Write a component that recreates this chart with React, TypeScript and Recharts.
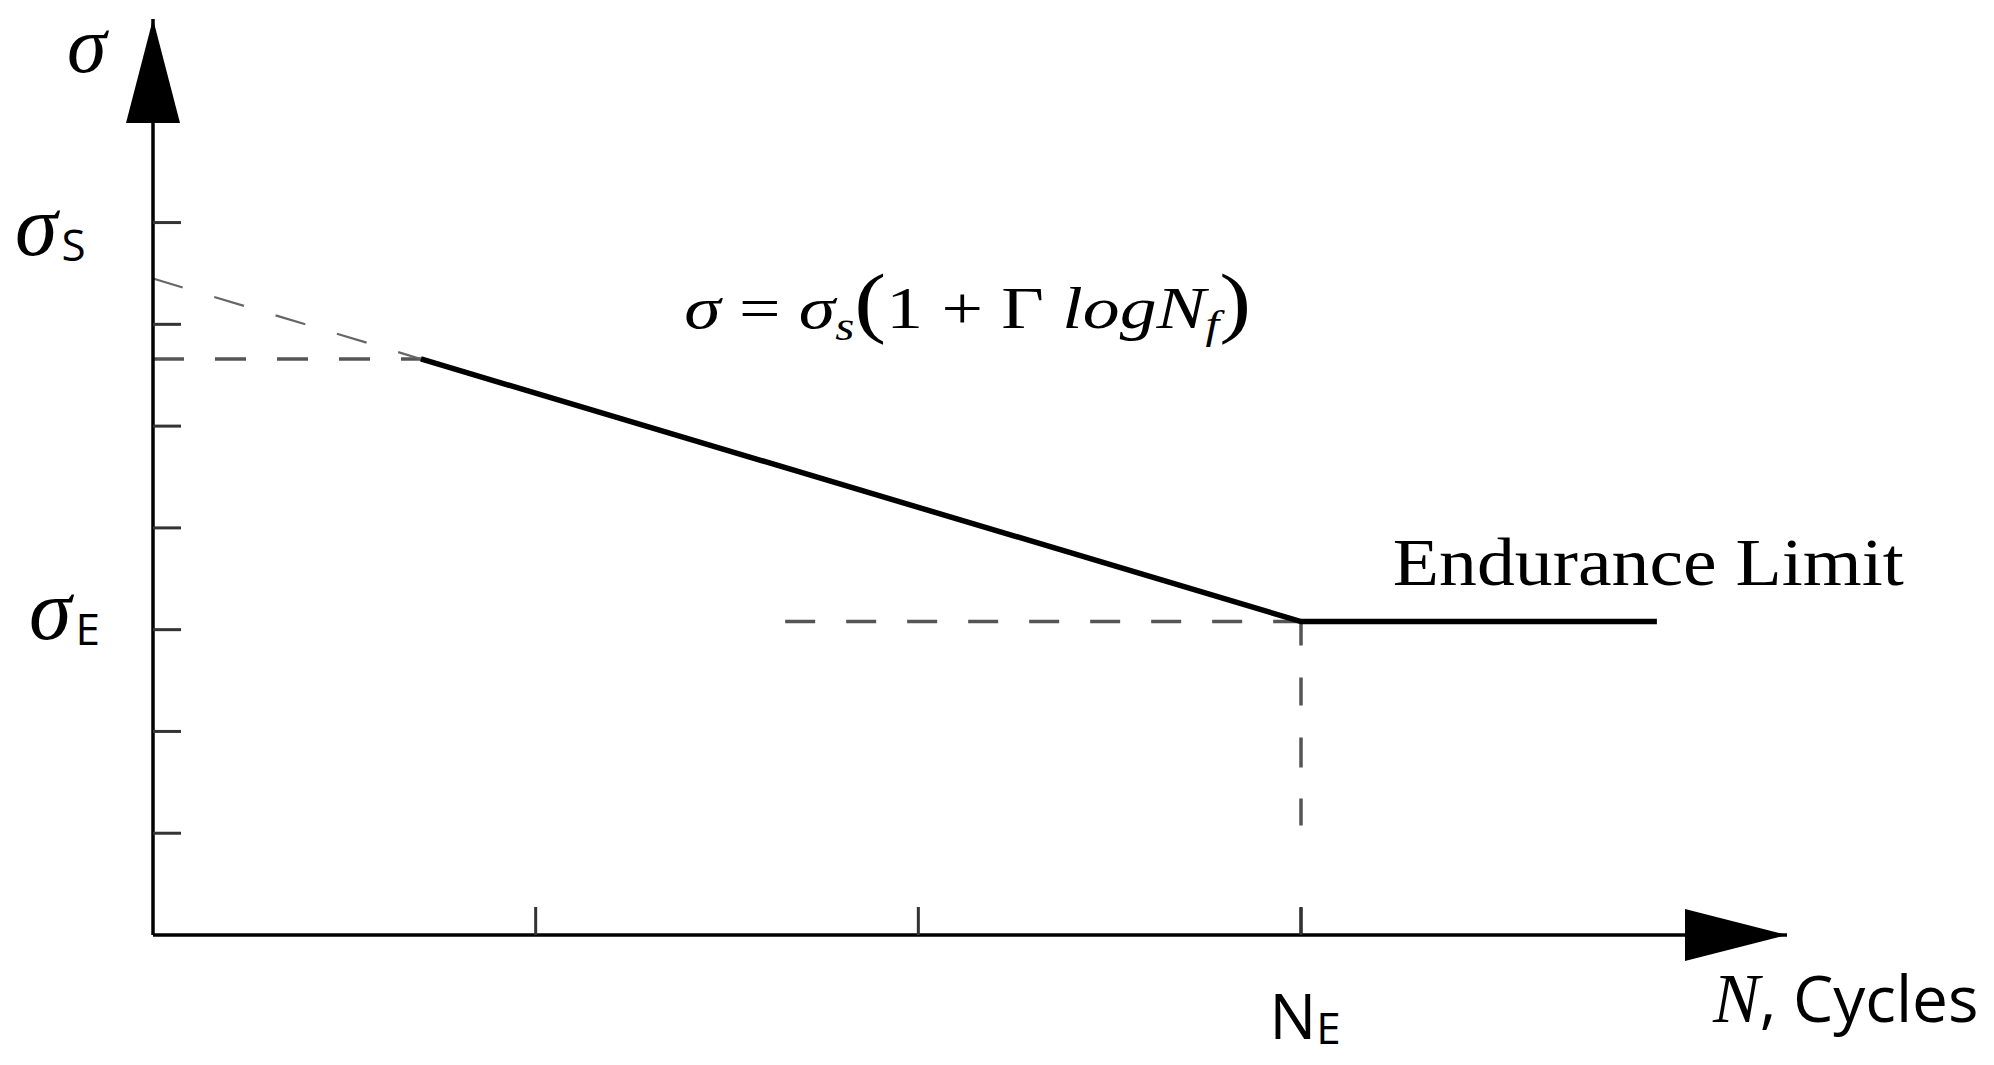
import * as React from "react";
import { ComposedChart, Line, XAxis, YAxis, ReferenceDot } from "recharts";

// axis ranges (N in "decades", sigma in tick units)
const X_MAX = 4.27;
const Y_MAX = 9;

const cycleTicks = [1, 2, 3];
const stressTicks = [1, 2, 3, 4, 5, 6, 7];
const stressTickSubs: Record<number, string> = { 7: "S", 3: "E" };
const cycleTickSubs: Record<number, string> = { 3: "E" };

// S-N curve: sloped part then the endurance plateau
const snCurve = [
  { x: 0.7, y: 5.66 },
  { x: 3, y: 3.08 },
  { x: 3.93, y: 3.08 },
];
// dashed construction lines
const backExtension = [
  { x: 0, y: 6.45 },
  { x: 0.7, y: 5.66 },
];
const startGuide = [
  { x: 0, y: 5.66 },
  { x: 0.7, y: 5.66 },
];
const enduranceGuide = [
  { x: 1.652, y: 3.08 },
  { x: 3, y: 3.08 },
];
const kneeGuide = [
  { x: 3, y: 3.08 },
  { x: 3, y: 0 },
];

const formulaAt = { x: 1.388, y: 5.96 };
const enduranceLabelAt = { x: 3.24, y: 3.44 };

const MATH = "'Liberation Serif', 'Times New Roman', serif";
const SANS = "'Open Sans', 'Noto Sans', sans-serif";
const TICK = 28;

// per-label nudges for the sigma tick labels (left of the axis)
const stressLabelNudge: Record<number, { dx: number; dy: number }> = {
  7: { dx: -138, dy: 32 },
  3: { dx: -124, dy: 9 },
};

function StressTick(props: any) {
  const { x, y, payload } = props;
  const sub = stressTickSubs[payload.value];
  if (!sub) return <g />;
  const axisX = x - TICK;
  const n = stressLabelNudge[payload.value];
  return (
    <text x={axisX + n.dx} y={y + n.dy} fill="#000">
      <tspan fontFamily={MATH} fontStyle="italic" fontSize={86}>
        σ
      </tspan>
      <tspan fontFamily={SANS} fontSize={44} dx={4} dy={6}>
        {sub}
      </tspan>
    </text>
  );
}

function CycleTick(props: any) {
  const { x, y, payload } = props;
  const sub = cycleTickSubs[payload.value];
  if (!sub) return <g />;
  const axisY = y + TICK;
  return (
    <text x={x + 4} y={axisY + 104} textAnchor="middle" fill="#000" fontFamily={SANS}>
      <tspan fontSize={62}>N</tspan>
      <tspan fontSize={44} dy={5}>
        {sub}
      </tspan>
    </text>
  );
}

function UpArrow(p: any) {
  const { cx, cy } = p;
  return <path d={`M${cx},${cy} L${cx + 27},${cy + 104} L${cx - 27},${cy + 104} Z`} fill="#000" />;
}

function RightArrow(p: any) {
  const { cx, cy } = p;
  return <path d={`M${cx},${cy} L${cx - 102},${cy - 26} L${cx - 102},${cy + 26} Z`} fill="#000" />;
}

function SigmaAxisTitle(p: any) {
  const { cx, cy } = p;
  return (
    <text x={cx - 86} y={cy + 53} fontFamily={MATH} fontStyle="italic" fontSize={80} fill="#000">
      σ
    </text>
  );
}

function CyclesAxisTitle(p: any) {
  const { cx, cy } = p;
  return (
    <text x={cx - 74} y={cy + 87} fill="#000" style={{ whiteSpace: "pre" }}>
      <tspan fontFamily={MATH} fontStyle="italic" fontSize={70}>
        N
      </tspan>
      <tspan fontFamily={SANS} fontSize={64}>
        , Cycles
      </tspan>
    </text>
  );
}

function Formula(p: any) {
  const { cx, cy } = p;
  return (
    <text
      x={cx}
      y={cy}
      fontFamily={MATH}
      fontSize={60}
      fill="#000"
      textLength={567}
      lengthAdjust="spacingAndGlyphs"
      style={{ whiteSpace: "pre" }}
    >
      <tspan fontStyle="italic">σ</tspan>
      <tspan> = </tspan>
      <tspan fontStyle="italic">σ</tspan>
      <tspan fontStyle="italic" fontSize={40} dy={12}>
        s
      </tspan>
      <tspan fontSize={78} dy={-12}>
        (
      </tspan>
      <tspan>1 + Γ </tspan>
      <tspan fontStyle="italic">logN</tspan>
      <tspan fontStyle="italic" fontSize={40} dy={10}>
        f
      </tspan>
      <tspan fontSize={78} dy={-10}>
        )
      </tspan>
    </text>
  );
}

function EnduranceLabel(p: any) {
  const { cx, cy } = p;
  return (
    <text
      x={cx}
      y={cy}
      fontFamily={MATH}
      fontSize={68}
      fill="#000"
      textLength={511}
      lengthAdjust="spacingAndGlyphs"
    >
      Endurance Limit
    </text>
  );
}

export default function App() {
  return (
    <div style={{ position: "absolute", left: 0, top: 0, background: "#fff" }}>
      <ComposedChart
        width={1994}
        height={1065}
        margin={{ top: 19, right: 207, bottom: 130, left: 153 }}
      >
        <XAxis
          type="number"
          dataKey="x"
          domain={[0, X_MAX]}
          ticks={cycleTicks}
          interval={0}
          height={1}
          mirror
          tickSize={TICK}
          tickMargin={0}
          axisLine={{ stroke: "#000", strokeWidth: 3.5 }}
          tickLine={{ stroke: "#333", strokeWidth: 3 }}
          tick={(p: any) => <CycleTick {...p} />}
        />
        <YAxis
          type="number"
          dataKey="y"
          domain={[0, Y_MAX]}
          ticks={stressTicks}
          interval={0}
          width={1}
          mirror
          tickSize={TICK}
          tickMargin={0}
          axisLine={{ stroke: "#000", strokeWidth: 3.5 }}
          tickLine={{ stroke: "#333", strokeWidth: 3 }}
          tick={(p: any) => <StressTick {...p} />}
        />
        <Line
          data={startGuide}
          dataKey="y"
          type="linear"
          stroke="#555"
          strokeWidth={3.5}
          strokeDasharray="31 31"
          dot={false}
          activeDot={false}
          isAnimationActive={false}
        />
        <Line
          data={backExtension}
          dataKey="y"
          type="linear"
          stroke="#666"
          strokeWidth={2.2}
          strokeDasharray="31 33"
          dot={false}
          activeDot={false}
          isAnimationActive={false}
        />
        <Line
          data={enduranceGuide}
          dataKey="y"
          type="linear"
          stroke="#555"
          strokeWidth={3.5}
          strokeDasharray="30 31"
          dot={false}
          activeDot={false}
          isAnimationActive={false}
        />
        <Line
          data={kneeGuide}
          dataKey="y"
          type="linear"
          stroke="#555"
          strokeWidth={3.5}
          strokeDasharray="24 32 28 32 30 31 27 82 30"
          dot={false}
          activeDot={false}
          isAnimationActive={false}
        />
        <Line
          data={snCurve}
          dataKey="y"
          type="linear"
          stroke="#000"
          strokeWidth={5.5}
          dot={false}
          activeDot={false}
          isAnimationActive={false}
        />
        <ReferenceDot x={0} y={Y_MAX} r={0} ifOverflow="visible" shape={UpArrow} />
        <ReferenceDot x={X_MAX} y={0} r={0} ifOverflow="visible" shape={RightArrow} />
        <ReferenceDot x={0} y={Y_MAX} r={0} ifOverflow="visible" shape={SigmaAxisTitle} />
        <ReferenceDot x={X_MAX} y={0} r={0} ifOverflow="visible" shape={CyclesAxisTitle} />
        <ReferenceDot x={formulaAt.x} y={formulaAt.y} r={0} ifOverflow="visible" shape={Formula} />
        <ReferenceDot
          x={enduranceLabelAt.x}
          y={enduranceLabelAt.y}
          r={0}
          ifOverflow="visible"
          shape={EnduranceLabel}
        />
      </ComposedChart>
    </div>
  );
}
